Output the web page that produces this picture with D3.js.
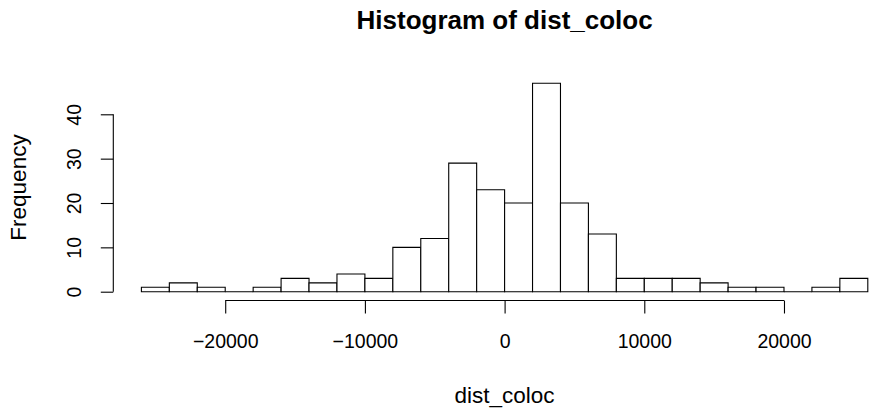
<!DOCTYPE html>
<html>
<head>
<meta charset="utf-8">
<script src="https://cdn.jsdelivr.net/npm/d3@7"></script>
<style>
  body { margin: 0; background: #fff; }
  text { font-family: "Liberation Sans", Arial, Helvetica, sans-serif; fill: #000; }
</style>
</head>
<body>
<div class="chart"></div>
<script>
// histogram of dist_coloc, bins of 2000
var binStarts = [-26000, -24000, -22000, -20000, -18000, -16000, -14000, -12000, -10000, -8000,
                 -6000, -4000, -2000, 0, 2000, 4000, 6000, 8000, 10000, 12000,
                 14000, 16000, 18000, 20000, 22000, 24000];
var binWidth = 2000;
var counts = [1, 2, 1, 0, 1, 3, 2, 4, 3, 10,
              12, 29, 23, 20, 47, 20, 13, 3, 3, 3,
              2, 1, 1, 0, 1, 3];
var xTicks = [-20000, -10000, 0, 10000, 20000];
var yTicks = [0, 10, 20, 30, 40];

var w = 871, h = 410;
var tickFont = 19.5, labFont = 22.5, mainFont = 26;

var svg = d3.select(".chart")
  .append("svg")
  .attr("width", w)
  .attr("height", h);

var x = d3.scaleLinear().domain([-26000, 26000]).range([141.4, 867.8]);
var y = d3.scaleLinear().domain([0, 40]).range([291.7, 114.3]);

// bars as closed paths so empty bins still show a flat line
svg.selectAll("path.bar")
  .data(counts)
  .enter()
  .append("path")
  .attr("class", "bar")
  .attr("d", function(d, i) {
    var x0 = x(binStarts[i]), x1 = x(binStarts[i] + binWidth);
    var y0 = y(0), y1 = y(d);
    return "M" + x0 + "," + y0 + "V" + y1 + "H" + x1 + "V" + y0 + "Z";
  })
  .attr("fill", "#fff")
  .attr("stroke", "#000")
  .attr("stroke-width", 1.1);

// x axis (R style, offset below)
var xAxisY = 300.5;
var xAxis = d3.axisBottom(x)
  .tickValues(xTicks)
  .tickSize(13)
  .tickPadding(21)
  .tickFormat(function(d) { return d < 0 ? "\u2212" + Math.abs(d) : d; });

var gx = svg.append("g")
  .attr("transform", "translate(0," + xAxisY + ")")
  .call(xAxis);
gx.select(".domain").remove();
gx.append("line")
  .attr("x1", x(xTicks[0])).attr("x2", x(xTicks[xTicks.length - 1]))
  .attr("y1", 0).attr("y2", 0)
  .attr("stroke", "#000").attr("stroke-width", 1.1);
gx.selectAll(".tick line").attr("stroke-width", 1.1);
gx.selectAll(".tick text")
  .attr("font-size", tickFont + "px")
  .attr("font-family", "Liberation Sans, Arial, sans-serif")
  .attr("fill", "#000");

// y axis
var yAxisX = 113.3;
var yAxis = d3.axisLeft(y)
  .tickValues(yTicks)
  .tickSize(12.5);

var gy = svg.append("g")
  .attr("transform", "translate(" + yAxisX + ",0)")
  .call(yAxis);
gy.select(".domain").remove();
gy.append("line")
  .attr("x1", 0).attr("x2", 0)
  .attr("y1", y(0)).attr("y2", y(40))
  .attr("stroke", "#000").attr("stroke-width", 1.1);
gy.selectAll(".tick line").attr("stroke-width", 1.1);
gy.selectAll(".tick text")
  .attr("font-size", tickFont + "px")
  .attr("font-family", "Liberation Sans, Arial, sans-serif")
  .attr("fill", "#000")
  .attr("text-anchor", "middle")
  .attr("dy", 0)
  .attr("x", 0)
  .attr("transform", "translate(-32,0) rotate(-90)");

// titles
svg.append("text")
  .attr("x", x(0))
  .attr("y", 29)
  .attr("text-anchor", "middle")
  .attr("font-size", mainFont + "px")
  .attr("font-weight", "bold")
  .text("Histogram of dist_coloc");

svg.append("text")
  .attr("x", x(0))
  .attr("y", 403)
  .attr("text-anchor", "middle")
  .attr("font-size", labFont + "px")
  .text("dist_coloc");

svg.append("text")
  .attr("transform", "translate(26,187.5) rotate(-90)")
  .attr("text-anchor", "middle")
  .attr("font-size", labFont + "px")
  .text("Frequency");
</script>
</body>
</html>
